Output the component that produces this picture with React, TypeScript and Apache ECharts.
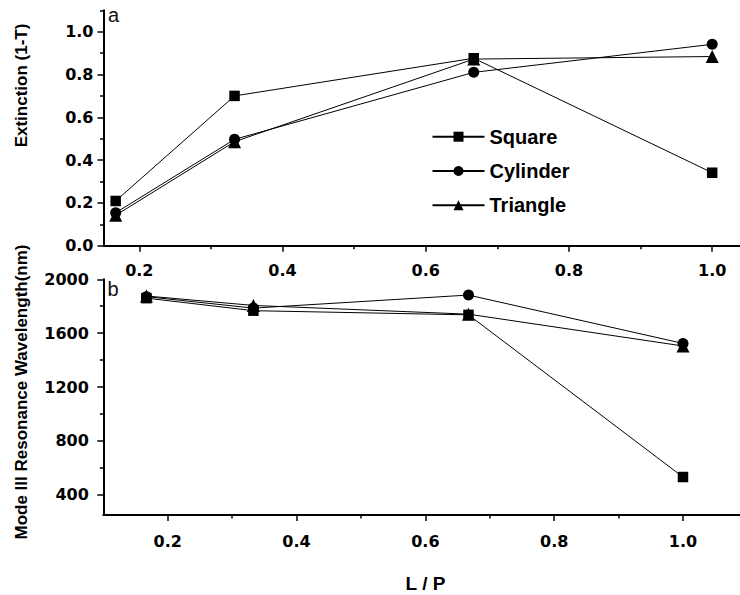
import React, { useEffect, useRef } from "react";
import * as echarts from "echarts";

const lp = [0.167, 0.333, 0.667, 1.0];

const extSquare = [0.209, 0.7, 0.876, 0.341];
const extCylinder = [0.154, 0.497, 0.81, 0.941];
const extTriangle = [0.142, 0.486, 0.872, 0.884];

const wlSquare = [1860, 1767, 1736, 532];
const wlCylinder = [1871, 1786, 1883, 1524];
const wlTriangle = [1876, 1806, 1741, 1505];

const topXMajor = [0.2, 0.4, 0.6, 0.8, 1.0];
const topXMinor = [0.3, 0.5, 0.7, 0.9];
const topYMajor = [0, 0.2, 0.4, 0.6, 0.8, 1.0];
const topYMinor = [0.1, 0.3, 0.5, 0.7, 0.9, 1.1];
const botXMajor = [0.2, 0.4, 0.6, 0.8, 1.0];
const botXMinor = [0.3, 0.5, 0.7, 0.9];
const botYMajor = [400, 800, 1200, 1600, 2000];
const botYMinor = [600, 1000, 1400, 1800];

const legendNames = ["Square", "Cylinder", "Triangle"];

const TICK_FONT = "DejaVu Sans";
const ARIAL = "Liberation Sans";

function majorAxis(
  gridIndex: number,
  min: number,
  max: number,
  values: number[],
  margin: number,
  fmt: (v: number) => string,
  pos: string
) {
  return {
    type: "value",
    gridIndex,
    position: pos,
    min,
    max,
    splitLine: { show: false },
    axisLine: { show: true, onZero: false, lineStyle: { color: "#000", width: 2 } },
    axisTick: {
      show: true,
      inside: false,
      length: 6,
      customValues: values,
      lineStyle: { color: "#000", width: 1.5 },
    },
    axisLabel: {
      show: true,
      customValues: values,
      margin,
      formatter: fmt,
      color: "#000",
      fontFamily: TICK_FONT,
      fontWeight: "bold",
      fontSize: 16,
    },
  };
}

function minorAxis(gridIndex: number, min: number, max: number, values: number[], pos: string) {
  return {
    type: "value",
    gridIndex,
    position: pos,
    min,
    max,
    splitLine: { show: false },
    axisLine: { show: false, onZero: false },
    axisTick: {
      show: true,
      inside: false,
      length: 3.5,
      customValues: values,
      lineStyle: { color: "#000", width: 1.5 },
    },
    axisLabel: { show: false, customValues: values },
  };
}

function lineSeries(
  name: string,
  symbol: string,
  size: number | number[],
  xs: number[],
  ys: number[],
  xi: number,
  yi: number
) {
  return {
    type: "line",
    name,
    xAxisIndex: xi,
    yAxisIndex: yi,
    symbol,
    symbolSize: size,
    showSymbol: true,
    data: xs.map((x, i) => [x, ys[i]]),
    lineStyle: { color: "#000", width: 1 },
    itemStyle: { color: "#000", borderWidth: 0 },
    emphasis: { disabled: true },
  };
}

export default function App() {
  const ref = useRef<HTMLDivElement>(null);

  useEffect(() => {
    if (!ref.current) return;
    const chart = echarts.init(ref.current, null, { renderer: "svg" });
    const f1 = (v: number) => v.toFixed(1);
    const f0 = (v: number) => String(Math.round(v));
    const option = {
      animation: false,
      backgroundColor: "#fff",
      color: ["#000"],
      grid: [
        { left: 103.5, top: 10.3, width: 644.5, height: 235.4 },
        { left: 103.3, top: 279.3, width: 644.1, height: 235.7 },
      ],
      xAxis: [
        majorAxis(0, 0.15, 1.05, topXMajor, 17, f1, "bottom"),
        minorAxis(0, 0.15, 1.05, topXMinor, "bottom"),
        majorAxis(1, 0.1, 1.1, botXMajor, 18, f1, "bottom"),
        minorAxis(1, 0.1, 1.1, botXMinor, "bottom"),
      ],
      yAxis: [
        majorAxis(0, 0, 1.1, topYMajor, 10, f1, "left"),
        minorAxis(0, 0, 1.1, topYMinor, "left"),
        majorAxis(1, 250, 2000, botYMajor, 14.5, f0, "left"),
        minorAxis(1, 250, 2000, botYMinor, "left"),
      ],
      legend: {
        data: legendNames,
        orient: "vertical",
        left: 426.5,
        top: 121.7,
        itemWidth: 52,
        itemHeight: 12.5,
        itemGap: 14.3,
        selectedMode: false,
        textStyle: {
          color: "#000",
          fontFamily: ARIAL,
          fontWeight: "bold",
          fontSize: 20,
          lineHeight: 20,
        },
      },
      series: [
        lineSeries("Triangle", "triangle", 13, lp, extTriangle, 0, 0),
        lineSeries("Cylinder", "circle", 11, lp, extCylinder, 0, 0),
        lineSeries("Square", "rect", 10.5, lp, extSquare, 0, 0),
        lineSeries("Triangle", "triangle", 13, lp, wlTriangle, 2, 2),
        lineSeries("Cylinder", "circle", 11, lp, wlCylinder, 2, 2),
        lineSeries("Square", "rect", 10.5, lp, wlSquare, 2, 2),
      ],
      graphic: [
        {
          type: "text",
          x: 21.5,
          y: 85.5,
          rotation: Math.PI / 2,
          style: {
            text: "Extinction (1-T)",
            fill: "#000",
            font: `bold 17px "${ARIAL}"`,
            align: "center",
            verticalAlign: "middle",
          },
        },
        {
          type: "text",
          x: 21.5,
          y: 392,
          rotation: Math.PI / 2,
          style: {
            text: "Mode III Resonance Wavelength(nm)",
            fill: "#000",
            font: `bold 17px "${ARIAL}"`,
            align: "center",
            verticalAlign: "middle",
          },
        },
        {
          type: "text",
          x: 108,
          y: 15,
          style: {
            text: "a",
            fill: "#111",
            font: `20px "${ARIAL}"`,
            align: "left",
            verticalAlign: "middle",
          },
        },
        {
          type: "text",
          x: 107.5,
          y: 289,
          style: {
            text: "b",
            fill: "#111",
            font: `20px "${ARIAL}"`,
            align: "left",
            verticalAlign: "middle",
          },
        },
        {
          type: "text",
          x: 425.5,
          y: 583,
          style: {
            text: "L / P",
            fill: "#000",
            font: `bold 19px "${ARIAL}"`,
            align: "center",
            verticalAlign: "middle",
          },
        },
      ],
    };
    chart.setOption(option as any);
    return () => chart.dispose();
  }, []);

  return (
    <div
      style={{
        position: "fixed",
        left: 0,
        top: 0,
        width: 740,
        height: 595,
        overflow: "hidden",
        background: "#fff",
      }}
    >
      <div ref={ref} style={{ width: 760, height: 595 }} />
    </div>
  );
}
